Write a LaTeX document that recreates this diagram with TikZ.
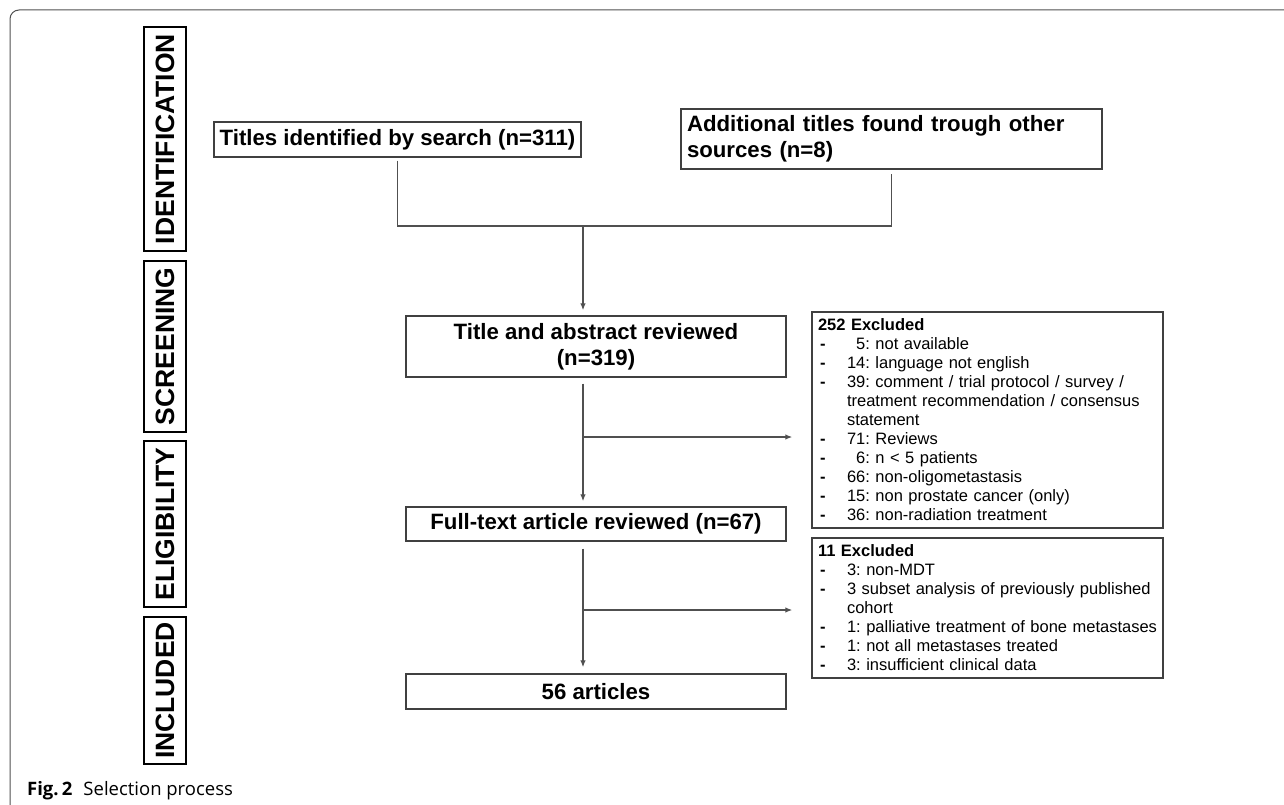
\documentclass[tikz,border=0pt]{standalone}
\usepackage{fontspec}
\setmainfont{Liberation Sans}
\newfontfamily\capfont{Open Sans}
\usetikzlibrary{arrows.meta,calc}
\definecolor{boxline}{HTML}{404040}
\definecolor{conline}{HTML}{505050}
\tikzset{
  mainbox/.style={draw=boxline, line width=1.4pt, fill=white, inner sep=0pt, align=center,
    font=\bfseries\fontsize{22.2}{26}\selectfont},
  exbox/.style={draw=boxline, line width=1.4pt, fill=white, inner xsep=6pt, inner ysep=0pt, align=left,
    text width=339pt, minimum width=351pt, font=\frenchspacing\fontsize{16.5}{19}\selectfont},
  sidebox/.style={draw=black, line width=1.8pt, rotate=90, minimum height=42pt, inner sep=0pt,
    font=\bfseries\fontsize{26.5}{30}\selectfont},
  con/.style={draw=conline, line width=1.3pt},
  arr/.style={con, -{Latex[length=7pt,width=5.5pt]}}
}
\newcommand\dashitem{\hspace*{2pt}\makebox[27pt][l]{\bfseries -}}
\newcommand\contitem{\hspace*{29pt}}
\newcommand\topstrut{\rule{0pt}{16pt}}
\begin{document}
\begin{tikzpicture}[x=1pt,y=-1pt]
\useasboundingbox (0,0) rectangle (1284,805);
% outer frame
\draw[draw=conline, line width=1pt, rounded corners=9pt] (10,812) -- (10,10) -- (1300,10);
% side labels
\node[sidebox, minimum width=224pt] (s1) at (165,139) {IDENTIFICATION};
\node[sidebox, minimum width=171pt] (s2) at (165,346.5) {SCREENING};
\node[sidebox, minimum width=166pt] (s3) at (165,524) {ELIGIBILITY};
\node[sidebox, minimum width=147pt] (s4) at (165,690.5) {INCLUDED};
% main boxes
\node[mainbox, minimum width=367pt, minimum height=35pt] (b1) at (397.5,139.5) {Titles identified by search (n=311)};
\node[mainbox, minimum width=421pt, minimum height=60pt, align=left, text width=409pt] (b2) at (891.5,139)
  {Additional titles found trough other\\sources (n=8)};
\node[mainbox, minimum width=380pt, minimum height=61pt] (b3) at (596,346.5) {Title and abstract reviewed\\(n=319)};
\node[mainbox, minimum width=380pt, minimum height=34pt] (b4) at (596,524) {Full-text article reviewed (n=67)};
\node[mainbox, minimum width=380pt, minimum height=35pt] (b5) at (596,691.5) {56 articles};
% exclusion boxes
\node[exbox, minimum height=216pt] (e1) at (987.5,420) {\topstrut\textbf{252 Excluded}\\
\dashitem\hphantom{1}5: not available\\
\dashitem 14: language not english\\
\dashitem 39: comment / trial protocol / survey /\\
\contitem treatment recommendation / consensus\\
\contitem statement\\
\dashitem 71: Reviews\\
\dashitem\hphantom{1}6: n {\textless} 5 patients\\
\dashitem 66: non-oligometastasis\\
\dashitem 15: non prostate cancer (only)\\
\dashitem 36: non-radiation treatment\strut};
\node[exbox, minimum height=140pt] (e2) at (987.5,608) {\topstrut\textbf{11 Excluded}\\
\dashitem 3: non-MDT\\
\dashitem 3 subset analysis of previously published\\
\contitem cohort\\
\dashitem 1: palliative treatment of bone metastases\\
\dashitem 1: not all metastases treated\\
\dashitem 3: insufficient clinical data\strut};
% connectors
\coordinate (j) at (583,226);
\coordinate (k1) at (583,437);
\coordinate (k2) at (583,610);
\draw[con] ([yshift=-3pt]b1.south) |- (j) -| ([yshift=-4pt]b2.south);
\draw[arr] (j) -- ([yshift=5pt]j |- b3.north);
\draw[arr] ([yshift=-6pt]j |- b3.south) -- ([yshift=5pt]j |- b4.north);
\draw[arr] (k1) -- ([xshift=-19pt]e1.west |- k1);
\draw[arr] ([yshift=-7pt]j |- b4.south) -- ([yshift=6pt]j |- b5.north);
\draw[arr] (k2) -- ([xshift=-19pt]e2.west |- k2);
% caption
\node[anchor=base west, inner sep=0pt, font=\capfont\fontsize{18.5}{22}\selectfont] (cap) at (27,795)
  {\textbf{Fig.\,2}\hspace{0.6em}Selection process};
\end{tikzpicture}
\end{document}
